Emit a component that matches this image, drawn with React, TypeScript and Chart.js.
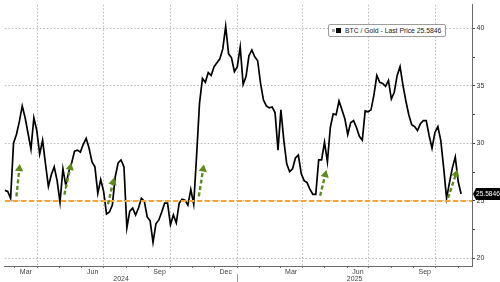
import React, { useEffect, useRef } from 'react';
import { Chart, registerables } from 'chart.js';

Chart.register(...registerables);

// ---- data -------------------------------------------------------------
const SERIES_NAME = 'BTC / Gold';
const START_DATE = '2024-02-16';
const STEP_DAYS = 4;
const BTC_GOLD = [
  25.90, 25.81, 25.21, 30.00, 30.77, 31.88, 33.25, 32.22, 30.85, 29.49,
  32.22, 31.11, 29.06, 30.26, 28.21, 26.24, 27.26, 27.95, 26.75, 24.87,
  27.78, 26.32, 27.52, 28.29, 29.32, 29.40, 29.23, 29.91, 30.43, 29.57,
  28.38, 27.95, 25.64, 26.84, 25.81, 23.85, 24.02, 24.62, 27.09, 28.29,
  28.55, 27.95, 22.65, 24.10, 24.36, 23.76, 24.36, 25.21, 24.96, 23.59,
  23.25, 21.37, 22.99, 23.33, 24.02, 24.79, 24.79, 22.91, 23.76, 23.08,
  24.79, 25.13, 25.04, 24.62, 25.98, 24.70, 28.97, 33.50, 35.64, 35.30,
  36.15, 35.90, 36.67, 37.01, 37.35, 38.21, 40.17, 37.78, 37.44, 36.24,
  36.67, 38.38, 35.13, 35.81, 37.61, 38.12, 37.52, 37.18, 35.21, 33.76,
  33.25, 33.08, 33.16, 32.65, 29.40, 32.91, 30.26, 28.21, 27.52, 27.78,
  28.72, 28.97, 27.35, 26.75, 26.58, 25.98, 25.56, 25.56, 28.55, 28.55,
  30.09, 28.38, 31.37, 32.56, 32.48, 33.68, 32.91, 32.14, 30.77, 31.79,
  31.97, 31.37, 30.60, 30.26, 32.82, 32.74, 32.91, 34.19, 35.90, 35.30,
  35.21, 34.96, 35.47, 33.85, 34.44, 35.90, 36.67, 35.04, 33.68, 32.48,
  31.62, 31.45, 31.11, 31.71, 31.97, 31.97, 30.68, 29.57, 30.94, 31.45,
  30.26, 27.86, 25.21, 26.58, 27.86, 28.80, 26.67, 25.5846,
];
const SUPPORT_LEVEL = 24.97;

const ARROW_BASE_DATES = ['2024-03-03', '2024-05-08', '2024-07-07', '2024-11-09', '2025-04-25', '2025-10-18'];
const ARROW_BASE_VALUES = [25.38, 25.53, 24.70, 25.38, 25.43, 25.24];
const ARROW_HEAD_DATES = ['2024-03-07', '2024-05-16', '2024-07-14', '2024-11-15', '2025-05-02', '2025-10-29'];
const ARROW_HEAD_VALUES = [27.78, 27.89, 26.61, 27.75, 27.26, 27.33];

const X_MIN_DATE = '2024-02-16';
const X_MAX_DATE = '2025-11-20';
const GRID_DATES = ['2024-04-01', '2024-07-01', '2024-10-01', '2025-01-01', '2025-04-01', '2025-07-01', '2025-10-01'];
const MONTH_TICK_DATES = [
  '2024-03-01', '2024-04-01', '2024-05-01', '2024-06-01', '2024-07-01', '2024-08-01', '2024-09-01',
  '2024-10-01', '2024-11-01', '2024-12-01', '2025-01-01', '2025-02-01', '2025-03-01', '2025-04-01',
  '2025-05-01', '2025-06-01', '2025-07-01', '2025-08-01', '2025-09-01', '2025-10-01', '2025-11-01',
];
const MONTH_LABELS = ['Mar', 'Jun', 'Sep', 'Dec', 'Mar', 'Jun', 'Sep'];
const MONTH_LABEL_DATES = ['2024-03-16', '2024-06-16', '2024-09-16', '2024-12-16', '2025-03-16', '2025-06-16', '2025-09-16'];
const YEAR_LABELS = ['2024', '2025'];
const YEAR_BREAK_DATE = '2025-01-01';

const Y_MIN = 19.32;
const Y_MAX = 42.05;
const Y_TICKS = [20, 22.5, 25, 27.5, 30, 32.5, 35, 37.5, 40];
const Y_LABELED = [20, 25, 30, 35, 40];

// ---- helpers ----------------------------------------------------------
const EPOCH = Date.UTC(2024, 0, 1);
function dayNum(s: string): number {
  const [y, m, d] = s.split('-').map(Number);
  return Math.round((Date.UTC(y, m - 1, d) - EPOCH) / 86400000);
}

const FONT = '"Liberation Sans", Arial, sans-serif';
const GRID_COLOR = '#b8b8b8';
const ARROW_COLOR = '#5d8c1c';
const ORANGE = '#f2a636';

export default function App() {
  const canvasRef = useRef<HTMLCanvasElement | null>(null);

  useEffect(() => {
    const canvas = canvasRef.current;
    if (!canvas) return;

    const start = dayNum(START_DATE);
    const lineData = BTC_GOLD.map((v, i) => ({ x: start + i * STEP_DAYS, y: v }));
    const xMin = dayNum(X_MIN_DATE);
    const xMax = dayNum(X_MAX_DATE);
    const yearBreak = dayNum(YEAR_BREAK_DATE);

    const gridSet = new Set(GRID_DATES.map(dayNum));
    const monthSet = new Set(MONTH_TICK_DATES.map(dayNum));
    const labelMap = new Map<number, string | string[]>();
    MONTH_LABEL_DATES.forEach((d, i) => labelMap.set(dayNum(d), MONTH_LABELS[i]));
    const yearPos = [(xMin + yearBreak) / 2, (yearBreak + xMax) / 2];
    yearPos.forEach((p, i) => labelMap.set(p, ['', YEAR_LABELS[i]]));

    const xTickValues = Array.from(new Set([...monthSet, ...labelMap.keys()])).sort((a, b) => a - b);

    const arrowSets = ARROW_BASE_DATES.map((d, i) => ({
      type: 'line' as const,
      label: 'arrow' + i,
      data: [
        { x: dayNum(d), y: ARROW_BASE_VALUES[i] },
        { x: dayNum(ARROW_HEAD_DATES[i]), y: ARROW_HEAD_VALUES[i] },
      ],
      borderColor: ARROW_COLOR,
      backgroundColor: ARROW_COLOR,
      borderWidth: 2.4,
      borderDash: [4, 2.5],
      pointRadius: [0, 4.8],
      pointStyle: 'triangle' as const,
      pointBorderWidth: 0,
      pointBackgroundColor: ARROW_COLOR,
      pointRotation: (ctx: any) => {
        const c = ctx.chart;
        const data = ctx.dataset.data;
        const xs = c.scales.x;
        const ys = c.scales.y;
        if (!xs || !ys) return 0;
        const dx = xs.getPixelForValue(data[1].x) - xs.getPixelForValue(data[0].x);
        const dy = ys.getPixelForValue(data[1].y) - ys.getPixelForValue(data[0].y);
        return (Math.atan2(dx, -dy) * 180) / Math.PI;
      },
      order: 0,
      clip: false as any,
    }));

    const priceLabel = {
      id: 'priceLabel',
      afterDraw(chart: any) {
        const { ctx, chartArea } = chart;
        const ys = chart.scales.y;
        const xs = chart.scales.x;
        const last = BTC_GOLD[BTC_GOLD.length - 1];
        const y = ys.getPixelForValue(last);
        const left = chartArea.right + 1;
        const right = chart.width;
        ctx.save();
        ctx.fillStyle = '#000';
        ctx.beginPath();
        ctx.moveTo(left, y);
        ctx.lineTo(left + 3, y - 6);
        ctx.lineTo(right, y - 6);
        ctx.lineTo(right, y + 6);
        ctx.lineTo(left + 3, y + 6);
        ctx.closePath();
        ctx.fill();
        ctx.fillStyle = '#fff';
        ctx.font = `6.6px ${FONT}`;
        ctx.textBaseline = 'middle';
        ctx.textAlign = 'left';
        ctx.fillText(last.toFixed(4), left + 3, y + 0.5);
        // year separator below the month labels
        const bx = Math.round(xs.getPixelForValue(yearBreak)) + 0.5;
        ctx.strokeStyle = '#9a9a9a';
        ctx.lineWidth = 1;
        ctx.beginPath();
        ctx.moveTo(bx, chartArea.bottom + 8);
        ctx.lineTo(bx, chart.height);
        ctx.stroke();
        ctx.restore();
      },
    };

    const chart = new Chart(canvas, {
      type: 'line',
      data: {
        datasets: [
          ...arrowSets,
          {
            label: 'support',
            data: [
              { x: xMin, y: SUPPORT_LEVEL },
              { x: xMax, y: SUPPORT_LEVEL },
            ],
            borderColor: ORANGE,
            borderWidth: 2,
            borderDash: [5.5, 2.5],
            pointRadius: 0,
            order: 1,
          },
          {
            label: SERIES_NAME,
            data: lineData,
            borderColor: '#000',
            borderWidth: 1.7,
            pointRadius: 0,
            tension: 0,
            order: 2,
          },
        ],
      },
      plugins: [priceLabel],
      options: {
        responsive: false,
        animation: false,
        maintainAspectRatio: false,
        layout: { padding: 0 },
        plugins: { legend: { display: false }, tooltip: { enabled: false } },
        events: [],
        scales: {
          x: {
            type: 'linear',
            min: xMin,
            max: xMax,
            afterBuildTicks: (s: any) => {
              s.ticks = xTickValues.map((v) => ({ value: v }));
            },
            afterFit: (s: any) => {
              s.height = 16;
              s.paddingLeft = 0;
              s.paddingRight = 0;
              s.paddingTop = 0;
              s.paddingBottom = 0;
            },
            ticks: {
              autoSkip: false,
              maxRotation: 0,
              minRotation: 0,
              padding: 1,
              color: '#444',
              font: { family: FONT, size: 7, lineHeight: 1 },
              callback: (v: any) => labelMap.get(Number(v)) ?? '',
            },
            grid: {
              color: (c: any) => (c.tick && gridSet.has(c.tick.value) ? GRID_COLOR : 'rgba(0,0,0,0)'),
              tickColor: (c: any) => (c.tick && monthSet.has(c.tick.value) ? '#777' : 'rgba(0,0,0,0)'),
              tickLength: 2,
              lineWidth: 1,
            },
            border: { display: true, color: '#6a6a6a', width: 1, dash: [1.5, 2] },
          },
          y: {
            type: 'linear',
            position: 'right',
            min: Y_MIN,
            max: Y_MAX,
            afterBuildTicks: (s: any) => {
              s.ticks = Y_TICKS.map((v) => ({ value: v }));
            },
            afterFit: (s: any) => {
              s.width = 28;
              s.paddingLeft = 0;
              s.paddingRight = 0;
              s.paddingTop = 0;
              s.paddingBottom = 0;
            },
            ticks: {
              padding: 1.5,
              color: '#333',
              font: { family: FONT, size: 7 },
              callback: (v: any) => (Y_LABELED.includes(Number(v)) ? String(v) : ''),
            },
            grid: {
              color: (c: any) => (c.tick && Y_LABELED.includes(c.tick.value) ? GRID_COLOR : 'rgba(0,0,0,0)'),
              tickColor: '#444',
              tickLength: 3,
              lineWidth: 1,
            },
            border: { display: true, color: '#6a6a6a', width: 1, dash: [1.5, 2] },
          },
        },
      },
    });

    return () => chart.destroy();
  }, []);

  const last = BTC_GOLD[BTC_GOLD.length - 1];

  return (
    <div style={{ position: 'fixed', left: 0, top: 0, width: 500, height: 282, background: '#fff' }}>
      <canvas ref={canvasRef} width={500} height={282} style={{ display: 'block' }} />
      <div
        style={{
          position: 'absolute',
          left: 328,
          top: 24,
          width: 118,
          height: 13,
          boxSizing: 'border-box',
          border: '1px solid #9c9c9c',
          borderRadius: 2,
          background: '#fff',
          display: 'flex',
          alignItems: 'center',
          fontFamily: FONT,
          fontSize: 6.8,
          color: '#222',
          whiteSpace: 'nowrap',
          overflow: 'hidden',
        }}
      >
        <span style={{ display: 'inline-block', width: 3, height: 3, background: '#aaa', marginLeft: 3 }} />
        <span style={{ display: 'inline-block', width: 5, height: 5, background: '#000', marginLeft: 1, marginRight: 4 }} />
        <span>{`${SERIES_NAME} - Last Price ${last.toFixed(4)}`}</span>
      </div>
    </div>
  );
}
